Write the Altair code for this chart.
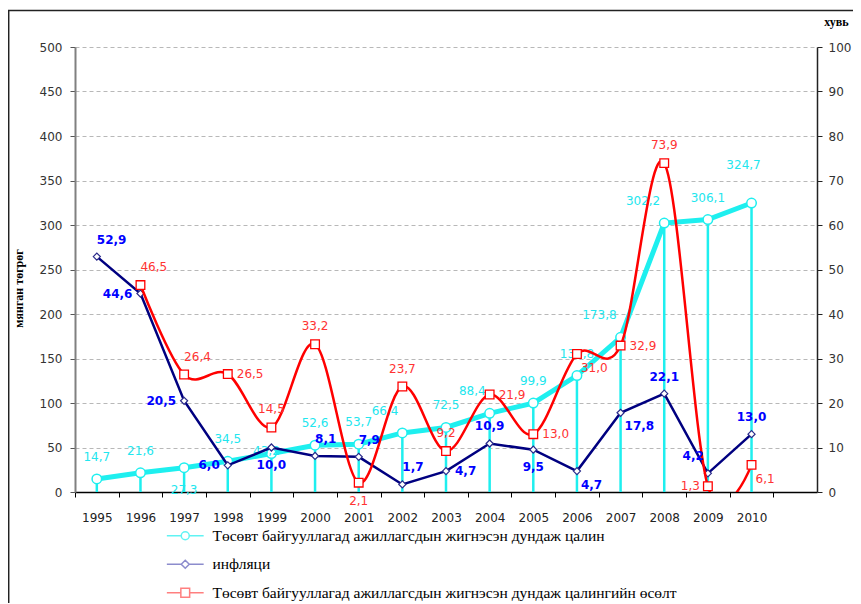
import altair as alt
import pandas as pd

# ---------------- data ----------------
years = list(range(1995, 2011))
salary = [14.7, 21.6, 27.3, 34.5, 43.2, 52.6, 53.7, 66.4, 72.5, 88.4, 99.9,
          130.8, 173.8, 302.2, 306.1, 324.7]
inflation = [52.9, 44.6, 20.5, 6.0, 10.0, 8.1, 7.9, 1.7, 4.7, 10.9, 9.5,
             4.7, 17.8, 22.1, 4.2, 13.0]
growth_years = list(range(1996, 2011))
growth = [46.5, 26.4, 26.5, 14.5, 33.2, 2.1, 23.7, 9.2, 21.9, 13.0, 31.0,
          32.9, 73.9, 1.3, 6.1]

# label placement keywords (t=top, b=bottom, l=left, r=right, c=centre)
salary_pos = ["t", "t", "b", "t", "c", "t", "t", "tl", "t", "tl", "t", "t",
              "tl", "tl", "t", "tt"]
inflation_pos = ["tr", "l", "l", "l", "b", "tr", "tr", "tr", "r", "t", "b",
                 "br", "br", "t", "tl", "t"]
growth_pos = ["tr", "tr", "r", "t", "t", "b", "t", "t", "r", "r", "br", "r",
              "t", "l", "br"]

series_names = [
    "Төсөвт байгууллагад ажиллагсдын жигнэсэн дундаж цалин",
    "инфляци",
    "Төсөвт байгууллагад ажиллагсдын жигнэсэн дундаж цалингийн өсөлт",
]
left_title = "мянган төгрөг"
right_title = "хувь"
x_ticks = list(range(1995, 2012))
left_ticks = list(range(0, 501, 50))
right_ticks = list(range(0, 101, 10))

# ---------------- styling ----------------
CYAN = "#1EEFEF"
NAVY = "#000080"
RED = "#FF0000"
W, H = 742, 445
STEP = W / 17.0

sal_df = pd.DataFrame({"year": years, "value": salary, "pos": salary_pos})
inf_df = pd.DataFrame({"year": years, "value": inflation, "pos": inflation_pos})
gr_df = pd.DataFrame({"year": growth_years, "value": growth, "pos": growth_pos})

X = alt.X(
    "year:Q",
    scale=alt.Scale(domain=[1994.5, 2011.5], nice=False, zero=False),
    axis=alt.Axis(
        values=x_ticks, format="d",
        labelExpr="datum.value > 2010 ? '' : datum.label",
        tickOffset=-STEP / 2, labelOffset=STEP / 2,
        tickSize=5, labelPadding=15, grid=False, title=None,
        domainColor="#000", domainWidth=1.5, tickColor="#000", tickWidth=1,
        labelColor="#222", labelFont="DejaVu Sans", labelFontSize=12,
    ),
)

Y_LEFT = alt.Y(
    "value:Q",
    scale=alt.Scale(domain=[0, 500], nice=False),
    axis=alt.Axis(
        values=left_ticks, grid=True, gridDash=[4, 3], gridColor="#b8b8b8",
        gridWidth=1, domainColor="#808080", domainWidth=2, tickColor="#555",
        tickSize=5, labelPadding=8, labelColor="#333", labelFont="DejaVu Sans",
        labelFontSize=12, title=left_title, titleFont="Liberation Serif",
        titleFontWeight="bold", titleFontSize=12, titleColor="#000",
        titleAngle=270, titleX=-57, titleY=241, titleAlign="center",
        titleBaseline="middle",
    ),
)

Y_RIGHT = alt.Y(
    "value:Q",
    scale=alt.Scale(domain=[0, 100], nice=False),
    axis=alt.Axis(
        orient="right", values=right_ticks, grid=False, domainColor="#222",
        domainWidth=1.5, tickColor="#222", tickSize=5, labelPadding=6,
        labelColor="#333", labelFont="DejaVu Sans", labelFontSize=12,
        title=right_title, titleFont="Liberation Serif", titleFontWeight="bold",
        titleFontSize=12, titleColor="#000", titleAngle=0, titleX=19,
        titleY=-26, titleAlign="center", titleBaseline="middle",
    ),
)

LABEL_EXPR = "replace(format(datum.value, '.1f'), '.', ',')"


def label_layers(df, ydef, color, weight, gap):
    spec = {
        "t": (0, -gap, "center"),
        "tt": (-8, -gap * 1.75, "center"),
        "b": (0, gap, "center"),
        "l": (-8, 0, "right"),
        "r": (9, 0, "left"),
        "tl": (-4, -gap, "right"),
        "tr": (0, -gap, "left"),
        "bl": (-4, gap * 0.8, "right"),
        "br": (4, gap * 0.8, "left"),
        "c": (-5, -3, "center"),
    }
    out = []
    used = set(df["pos"])
    for code, (dx, dy, align) in spec.items():
        if code not in used:
            continue
        out.append(
            alt.Chart(df)
            .transform_filter(alt.datum.pos == code)
            .transform_calculate(label=LABEL_EXPR)
            .mark_text(dx=dx, dy=dy, align=align, baseline="middle",
                       font="DejaVu Sans", fontSize=12, fontWeight=weight,
                       color=color)
            .encode(x=X, y=ydef, text="label:N")
        )
    return out


# ---- left-axis group (salary) ----
drop = alt.Chart(sal_df).mark_rule(color=CYAN, strokeWidth=2.5).encode(
    x=X, y=Y_LEFT, y2=alt.datum(0)
)
sal_line = alt.Chart(sal_df).mark_line(color=CYAN, strokeWidth=5).encode(x=X, y=Y_LEFT)
sal_pts = alt.Chart(sal_df).mark_point(
    shape="circle", size=90, filled=True, fill="white", stroke=CYAN,
    strokeWidth=1.5, opacity=1
).encode(x=X, y=Y_LEFT)
left_group = alt.layer(drop, sal_line, sal_pts,
                       *label_layers(sal_df, Y_LEFT, "#22E6EE", "normal", 22))

# ---- right-axis group (inflation, growth) ----
inf_line = alt.Chart(inf_df).mark_line(color=NAVY, strokeWidth=2.5).encode(x=X, y=Y_RIGHT)
inf_pts = alt.Chart(inf_df).mark_point(
    shape="diamond", size=50, filled=True, fill="white", stroke="#2A2A8A",
    strokeWidth=1.2, opacity=1
).encode(x=X, y=Y_RIGHT)
gr_line = alt.Chart(gr_df).mark_line(
    color=RED, strokeWidth=2.5, interpolate="cardinal", clip=True
).encode(x=X, y=Y_RIGHT)
gr_pts = alt.Chart(gr_df).mark_point(
    shape="square", size=75, filled=True, fill="white", stroke=RED,
    strokeWidth=1.3, opacity=1
).encode(x=X, y=Y_RIGHT)
right_group = alt.layer(
    inf_line, inf_pts, gr_line, gr_pts,
    *label_layers(inf_df, Y_RIGHT, "#0000FF", "bold", 17),
    *label_layers(gr_df, Y_RIGHT, "#FF3333", "normal", 18),
)

# ---- legend (line + marker symbols) ----
legend_paths = [
    "M-4.6,0H-1M1,0H4.6M-1,0A1,1,0,1,1,1,0A1,1,0,1,1,-1,0Z",
    "M-4.6,0H-1M1,0H4.6M-1,0L0,-1L1,0L0,1Z",
    "M-4.6,0H-1.1M1.1,0H4.6M-1.1,-1.1H1.1V1.1H-1.1Z",
]
legend_colors = ["#1EEFEF", "#5C5CB8", "#FF4A4A"]
leg_df = pd.DataFrame({"series": series_names})
LEG = alt.Legend(
    orient="none", legendX=102.5, legendY=481, direction="vertical",
    title=None, labelFont="Liberation Serif", labelFontSize=15.5,
    labelColor="#000", labelLimit=800, symbolSize=64, symbolStrokeWidth=1.5,
    symbolFillColor="white", labelOffset=19.5, rowPadding=11.5, padding=0,
)
legend_layer = alt.Chart(leg_df).mark_point(clip=True, filled=False).encode(
    x=alt.value(-1000), y=alt.value(-1000),
    color=alt.Color("series:N", scale=alt.Scale(domain=series_names, range=legend_colors), legend=LEG),
    shape=alt.Shape("series:N", scale=alt.Scale(domain=series_names, range=legend_paths), legend=LEG),
)

# ---- outer frame ----
frame = alt.Chart(pd.DataFrame({"f": [0]})).mark_rect(
    fill="transparent", stroke="#222", strokeWidth=1.5
).encode(x=alt.value(-66.3), x2=alt.value(800), y=alt.value(-36.5), y2=alt.value(700))

chart = (
    alt.layer(frame, left_group, right_group, legend_layer)
    .resolve_scale(y="independent")
    .properties(
        width=W, height=H,
        autosize=alt.AutoSizeParams(type="none"),
        padding={"left": 67, "top": 39, "right": 36, "bottom": 111},
        background="white",
    )
    .configure_view(strokeWidth=0)
)

chart.save("out.html", embed_options={"renderer": "svg", "actions": False})
